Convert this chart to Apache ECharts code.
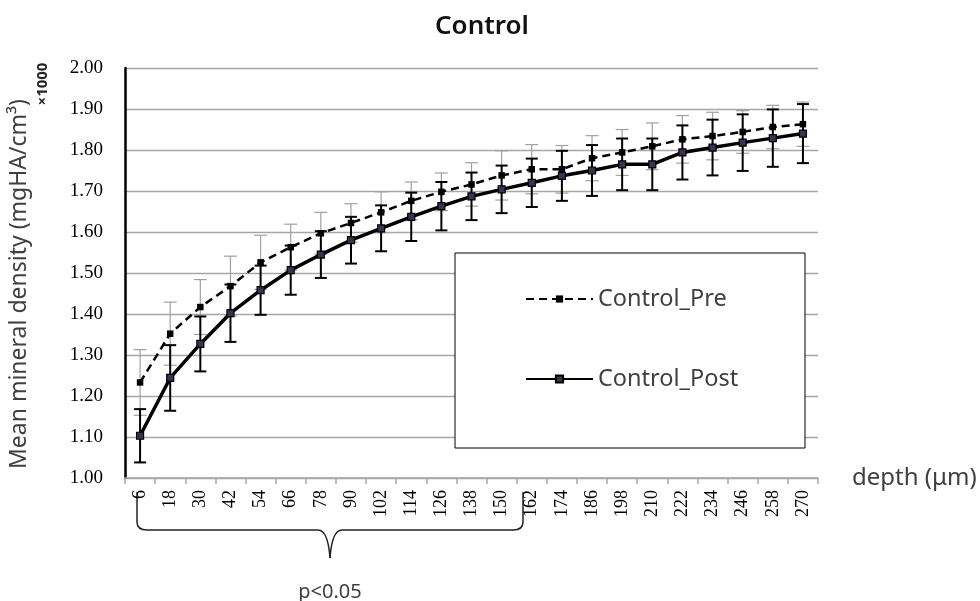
<!DOCTYPE html>
<html>
<head>
<meta charset="utf-8">
<script src="https://cdn.jsdelivr.net/npm/echarts@6/dist/echarts.min.js"></script>
<style>html,body{margin:0;padding:0;background:#fff;}#c{width:980px;height:601px;}</style>
</head>
<body>
<div id="c"></div>
<script>
const categories = ['6','18','30','42','54','66','78','90','102','114','126','138','150','162','174','186','198','210','222','234','246','258','270'];
const preMean = [1.233,1.352,1.417,1.468,1.526,1.563,1.597,1.622,1.648,1.676,1.698,1.716,1.738,1.753,1.753,1.780,1.794,1.809,1.826,1.834,1.844,1.856,1.863];
const preErr  = [0.080,0.077,0.067,0.073,0.066,0.056,0.051,0.047,0.050,0.046,0.046,0.053,0.060,0.060,0.058,0.055,0.056,0.057,0.058,0.058,0.052,0.053,0.054];
const postMean = [1.103,1.244,1.327,1.402,1.458,1.507,1.545,1.580,1.609,1.637,1.663,1.687,1.704,1.720,1.737,1.750,1.765,1.765,1.794,1.806,1.818,1.829,1.840];
const postErr  = [0.065,0.080,0.067,0.070,0.060,0.060,0.057,0.057,0.056,0.059,0.059,0.058,0.058,0.059,0.061,0.062,0.063,0.063,0.066,0.068,0.069,0.070,0.072];
const yTicks = [1.0,1.1,1.2,1.3,1.4,1.5,1.6,1.7,1.8,1.9,2.0];

const preErrData = preMean.map((m,i)=>[i, m-preErr[i], m+preErr[i]]);
const postErrData = postMean.map((m,i)=>[i, m-postErr[i], m+postErr[i]]);

function errRender(color, width, cap){
  return function(params, api){
    const x = api.value(0);
    const lo = api.coord([x, api.value(1)]);
    const hi = api.coord([x, api.value(2)]);
    const st = {stroke: color, lineWidth: width};
    return {type:'group', children:[
      {type:'line', shape:{x1:lo[0],y1:lo[1],x2:hi[0],y2:hi[1]}, style:st},
      {type:'line', shape:{x1:hi[0]-cap/2,y1:hi[1],x2:hi[0]+cap/2,y2:hi[1]}, style:st},
      {type:'line', shape:{x1:lo[0]-cap/2,y1:lo[1],x2:lo[0]+cap/2,y2:lo[1]}, style:st}
    ]};
  };
}

const sans = '"Noto Sans", "Open Sans", sans-serif';
const serif = '"Liberation Serif", "DejaVu Serif", serif';
const braceStyle = {fill:'none', stroke:'#222', lineWidth:1.5};
const chart = echarts.init(document.getElementById('c'), null, {renderer:'canvas'});
chart.setOption({
  animation:false,
  backgroundColor:'#fff',
  title:{text:'Control', left:430, top:9, textStyle:{fontFamily:sans, fontSize:26, fontWeight:600, color:'#111'}},
  grid:{left:123, right:162, top:68, bottom:123, containLabel:false},
  legend:{
    orient:'vertical', left:520, top:281, itemGap:54, itemWidth:67, itemHeight:9,
    textStyle:{fontFamily:sans, fontSize:23.5, color:'#404040', lineHeight:26},
    data:['Control_Pre','Control_Post']
  },
  xAxis:{
    type:'category', data:categories, boundaryGap:true,
    name:'depth (μm)', nameLocation:'end', nameGap:34,
    nameTextStyle:{fontFamily:sans, fontSize:24, color:'#404040', verticalAlign:'middle'},
    axisLine:{lineStyle:{color:'#a6a6a6', width:1.5}},
    axisTick:{show:true, interval:0, alignWithLabel:false, length:6, lineStyle:{color:'#a6a6a6', width:1.5}},
    axisLabel:{interval:0, rotate:90, margin:12, fontFamily:serif, fontSize:18, color:'#000'},
    splitLine:{show:false}
  },
  yAxis:{
    type:'value', min:yTicks[0], max:yTicks[yTicks.length-1], interval:0.1,
    name:'Mean mineral density (mgHA/cm³)', nameLocation:'middle', nameGap:94, nameRotate:90,
    nameTextStyle:{fontFamily:sans, fontSize:23, color:'#404040', padding:[0,22,0,0]},
    axisLine:{show:true, lineStyle:{color:'#000', width:2.5}},
    axisTick:{show:false},
    axisLabel:{margin:22, fontFamily:serif, fontSize:19, color:'#000', formatter:v=>v.toFixed(2)},
    splitLine:{show:true, lineStyle:{color:'#a6a6a6', width:1.3}}
  },
  graphic:[
    {type:'rect', z:1, shape:{x:455, y:253, width:350, height:195}, style:{fill:'#fff', stroke:'#000', lineWidth:1}},
    {type:'text', x:43, y:84, rotation:Math.PI/2, style:{text:'×1000', font:'bold 15px "Noto Sans", sans-serif', fill:'#222', textAlign:'center', textVerticalAlign:'middle'}},
    {type:'group', children:[
      {type:'line', shape:{x1:137,y1:492,x2:137,y2:522}, style:braceStyle},
      {type:'bezierCurve', shape:{x1:137,y1:522,cpx1:137,cpy1:530,x2:147,y2:530}, style:braceStyle},
      {type:'line', shape:{x1:147,y1:530,x2:318,y2:530}, style:braceStyle},
      {type:'bezierCurve', shape:{x1:318,y1:530,cpx1:328,cpy1:530,x2:330,y2:558}, style:braceStyle},
      {type:'bezierCurve', shape:{x1:330,y1:558,cpx1:332,cpy1:530,x2:342,y2:530}, style:braceStyle},
      {type:'line', shape:{x1:342,y1:530,x2:513,y2:530}, style:braceStyle},
      {type:'bezierCurve', shape:{x1:513,y1:530,cpx1:523,cpy1:530,x2:523,y2:522}, style:braceStyle},
      {type:'line', shape:{x1:523,y1:522,x2:523,y2:492}, style:braceStyle}
    ]},
    {type:'text', x:330, y:592, style:{text:'p<0.05', font:'20px "Noto Sans", sans-serif', fill:'#404040', textAlign:'center', textVerticalAlign:'middle'}}
  ],
  series:[
    {type:'custom', name:'preErr', z:2, renderItem:errRender('#a0a0a0',1.2,13), data:preErrData, encode:{x:0, y:[1,2]}, silent:true},
    {type:'custom', name:'postErr', z:3, renderItem:errRender('#000',2,12), data:postErrData, encode:{x:0, y:[1,2]}, silent:true},
    {type:'line', name:'Control_Pre', z:4, data:preMean, symbol:'rect', symbolSize:6.5, showAllSymbol:true,
      itemStyle:{color:'#000', borderColor:'#000', borderWidth:0},
      lineStyle:{color:'#000', width:2.5, type:[8,5]}},
    {type:'line', name:'Control_Post', z:5, data:postMean, symbol:'rect', symbolSize:7, showAllSymbol:true,
      itemStyle:{color:'#3d3050', borderColor:'#000', borderWidth:1.2},
      lineStyle:{color:'#000', width:3.5}}
  ]
});
</script>
</body>
</html>
